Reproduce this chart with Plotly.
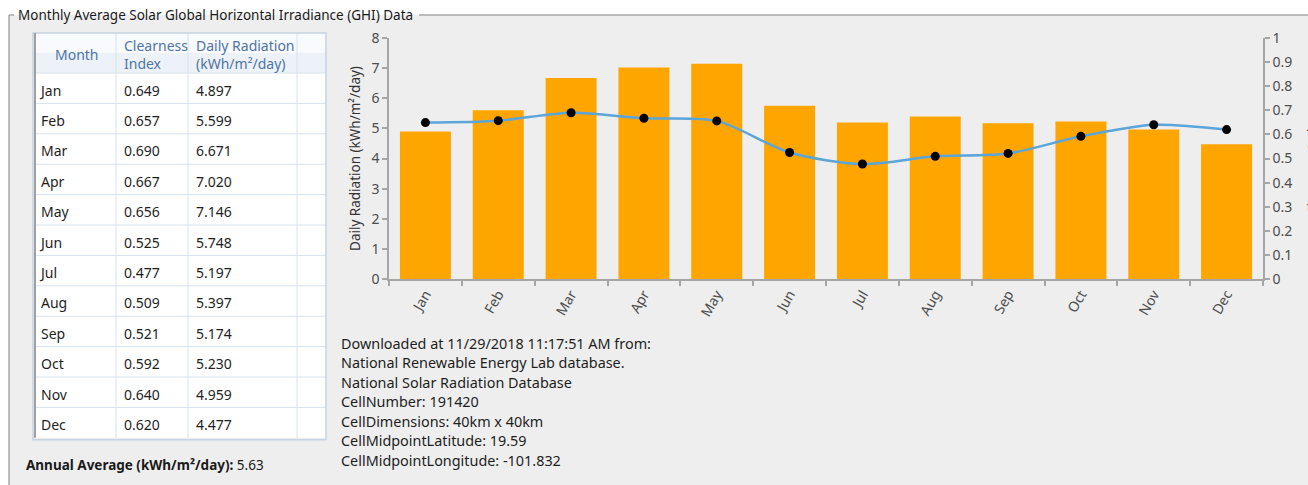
import plotly.graph_objects as go

W, H = 1308, 485

months = ["Jan", "Feb", "Mar", "Apr", "May", "Jun",
          "Jul", "Aug", "Sep", "Oct", "Nov", "Dec"]
clearness = [0.649, 0.657, 0.690, 0.667, 0.656, 0.525,
             0.477, 0.509, 0.521, 0.592, 0.640, 0.620]
radiation = [4.897, 5.599, 6.671, 7.020, 7.146, 5.748,
             5.197, 5.397, 5.174, 5.230, 4.959, 4.477]
annual_average = 5.63

table_headers = ["Month", "Clearness<br>Index", "Daily Radiation<br>(kWh/m²/day)", ""]

info_lines = [
    "Downloaded at 11/29/2018 11:17:51 AM from:",
    "National Renewable Energy Lab database.",
    "National Solar Radiation Database",
    "CellNumber: 191420",
    "CellDimensions: 40km x 40km",
    "CellMidpointLatitude: 19.59",
    "CellMidpointLongitude: -101.832",
]

FONT = "Noto Sans"
AXIS_COL = "#A6A6A6"
TICK_COL = "#4D4D4D"
GRID_COL = "#D6E2EE"


def px(x):
    return x / W


def py(y):
    return 1 - y / H


# Grid geometry (pixels)
ROW_H = 30.4
T_LEFT, T_RIGHT, T_TOP, T_HEAD = 33, 326, 33, 73
T_BOTTOM = T_HEAD + ROW_H * len(months)
col_edges = [T_LEFT, 116, 188, 297, T_RIGHT]
EMPTY_HEAD_H = 14  # height plotly gives an empty, invisible header row

fig = go.Figure()

# Grid body: values come from the data lists, the frame is drawn with shapes
fig.add_trace(go.Table(
    domain=dict(x=[px(T_LEFT), px(T_RIGHT)],
                y=[py(T_BOTTOM + 30), py(T_HEAD + 2 - EMPTY_HEAD_H)]),
    columnwidth=[b - a for a, b in zip(col_edges[:-1], col_edges[1:])],
    header=dict(values=[], height=0, fill_color="rgba(0,0,0,0)", line=dict(width=0)),
    cells=dict(
        values=[months, clearness, radiation, [""] * len(months)],
        format=["", ".3f", ".3f", ""],
        align="left",
        fill_color="rgba(0,0,0,0)",
        line=dict(width=0),
        font=dict(family=FONT, size=14, color="#1E1E1E"),
        height=ROW_H,
    ),
))

# Monthly radiation bars
fig.add_trace(go.Bar(
    x=months, y=radiation, marker=dict(color="#FFA500", line=dict(width=0)),
    name="Daily Radiation", xaxis="x", yaxis="y",
))

# Clearness index line on the secondary axis
fig.add_trace(go.Scatter(
    x=months, y=clearness, mode="lines+markers", name="Clearness Index",
    line=dict(color="#5AA5DA", width=2.5, shape="spline", smoothing=0.8),
    marker=dict(color="black", size=9),
    xaxis="x", yaxis="y2",
))

axis_common = dict(
    showline=True, linecolor=AXIS_COL, linewidth=1.5,
    ticks="outside", ticklen=5, tickcolor=AXIS_COL, tickwidth=1.5,
    showgrid=False, zeroline=False, automargin=False,
    tickfont=dict(family=FONT, size=14, color=TICK_COL),
)

fig.update_layout(
    width=W, height=H, autosize=False,
    margin=dict(l=0, r=0, t=0, b=0, pad=0, autoexpand=False),
    paper_bgcolor="white", plot_bgcolor="rgba(0,0,0,0)",
    showlegend=False, bargap=0.3,
    xaxis=dict(
        domain=[px(389), px(1263)], anchor="y",
        type="category", range=[-0.5, 11.5],
        tickson="boundaries", tickangle=-60,
        **axis_common,
    ),
    yaxis=dict(
        domain=[py(279), py(38)], anchor="x",
        range=[0, 8], dtick=1,
        title=dict(text="Daily Radiation (kWh/m²/day)", standoff=8,
                   font=dict(family=FONT, size=13.5, color="#333333")),
        **axis_common,
    ),
    yaxis2=dict(
        overlaying="y", side="right", anchor="x",
        range=[0, 1], dtick=0.1,
        **axis_common,
    ),
)


def rect(x0, y0, x1, y1, **kw):
    fig.add_shape(type="rect", xref="paper", yref="paper",
                  x0=px(x0), x1=px(x1), y0=py(y1), y1=py(y0), **kw)


def seg(x0, y0, x1, y1, color, width):
    fig.add_shape(type="line", xref="paper", yref="paper",
                  x0=px(x0), x1=px(x1), y0=py(y0), y1=py(y1),
                  line=dict(color=color, width=width), layer="below")


# Group box background and frame
rect(9, 15, W + 10, H + 10, fillcolor="#EEEEEE", line=dict(width=0), layer="below")
frame_col = "#A9A9A9"
seg(9, 15, 14, 15, frame_col, 1.5)
seg(419, 15, W, 15, frame_col, 1.5)
seg(9, 15, 9, H, frame_col, 1.5)

fig.add_annotation(
    text="Monthly Average Solar Global Horizontal Irradiance (GHI) Data",
    xref="paper", yref="paper", x=px(16), y=py(15),
    xanchor="left", yanchor="middle", showarrow=False,
    font=dict(family=FONT, size=13.5, color="#1A1A1A"),
)

# Grid background, header band and lines
rect(T_LEFT, T_TOP, T_RIGHT, T_BOTTOM, fillcolor="white", line=dict(width=0), layer="below")
rect(T_LEFT, T_TOP, T_RIGHT, T_TOP + 20, fillcolor="#F8FAFD", line=dict(width=0), layer="below")
rect(T_LEFT, T_TOP + 20, T_RIGHT, T_HEAD, fillcolor="#EDF2F9", line=dict(width=0), layer="below")
for xe in col_edges[1:-1]:
    seg(xe, T_TOP, xe, T_BOTTOM, GRID_COL, 1)
for k in range(len(months)):
    yk = T_HEAD + k * ROW_H
    seg(T_LEFT, yk, T_RIGHT, yk, GRID_COL, 1)
rect(T_LEFT, T_TOP, T_RIGHT, T_BOTTOM + 2, line=dict(color="#C5D3E2", width=1.5), layer="below")
seg(35, T_TOP, 35, T_BOTTOM, "#A0A0A0", 2)

# Header captions
for i, label in enumerate(table_headers):
    if not label:
        continue
    if i == 0:
        xa, anchor = (col_edges[0] + col_edges[1]) / 2 + 2, "center"
    else:
        xa, anchor = col_edges[i] + 6, "left"
    fig.add_annotation(
        text=label, xref="paper", yref="paper", x=px(xa), y=py((T_TOP + T_HEAD) / 2 + 1),
        xanchor=anchor, yanchor="middle", align="left", showarrow=False,
        font=dict(family=FONT, size=14, color="#4F74A3"),
    )

# Secondary axis title, running past the right edge
fig.add_annotation(
    text="Clearness Index", xref="paper", yref="paper",
    x=px(1302), y=py(165), xanchor="left", yanchor="middle",
    textangle=-90, showarrow=False,
    font=dict(family=FONT, size=13.5, color="#333333"),
)

# Source information
for i, line in enumerate(info_lines):
    fig.add_annotation(
        text=line, xref="paper", yref="paper",
        x=px(339), y=py(343 + i * 19.5), xanchor="left", yanchor="middle",
        showarrow=False, font=dict(family=FONT, size=14.4, color="#1E1E1E"),
    )

fig.add_annotation(
    text=f"<b>Annual Average (kWh/m²/day):</b> {annual_average:.2f}",
    xref="paper", yref="paper", x=px(24), y=py(465),
    xanchor="left", yanchor="middle", showarrow=False,
    font=dict(family=FONT, size=13.5, color="#1A1A1A"),
)

fig.write_html("out.html")
